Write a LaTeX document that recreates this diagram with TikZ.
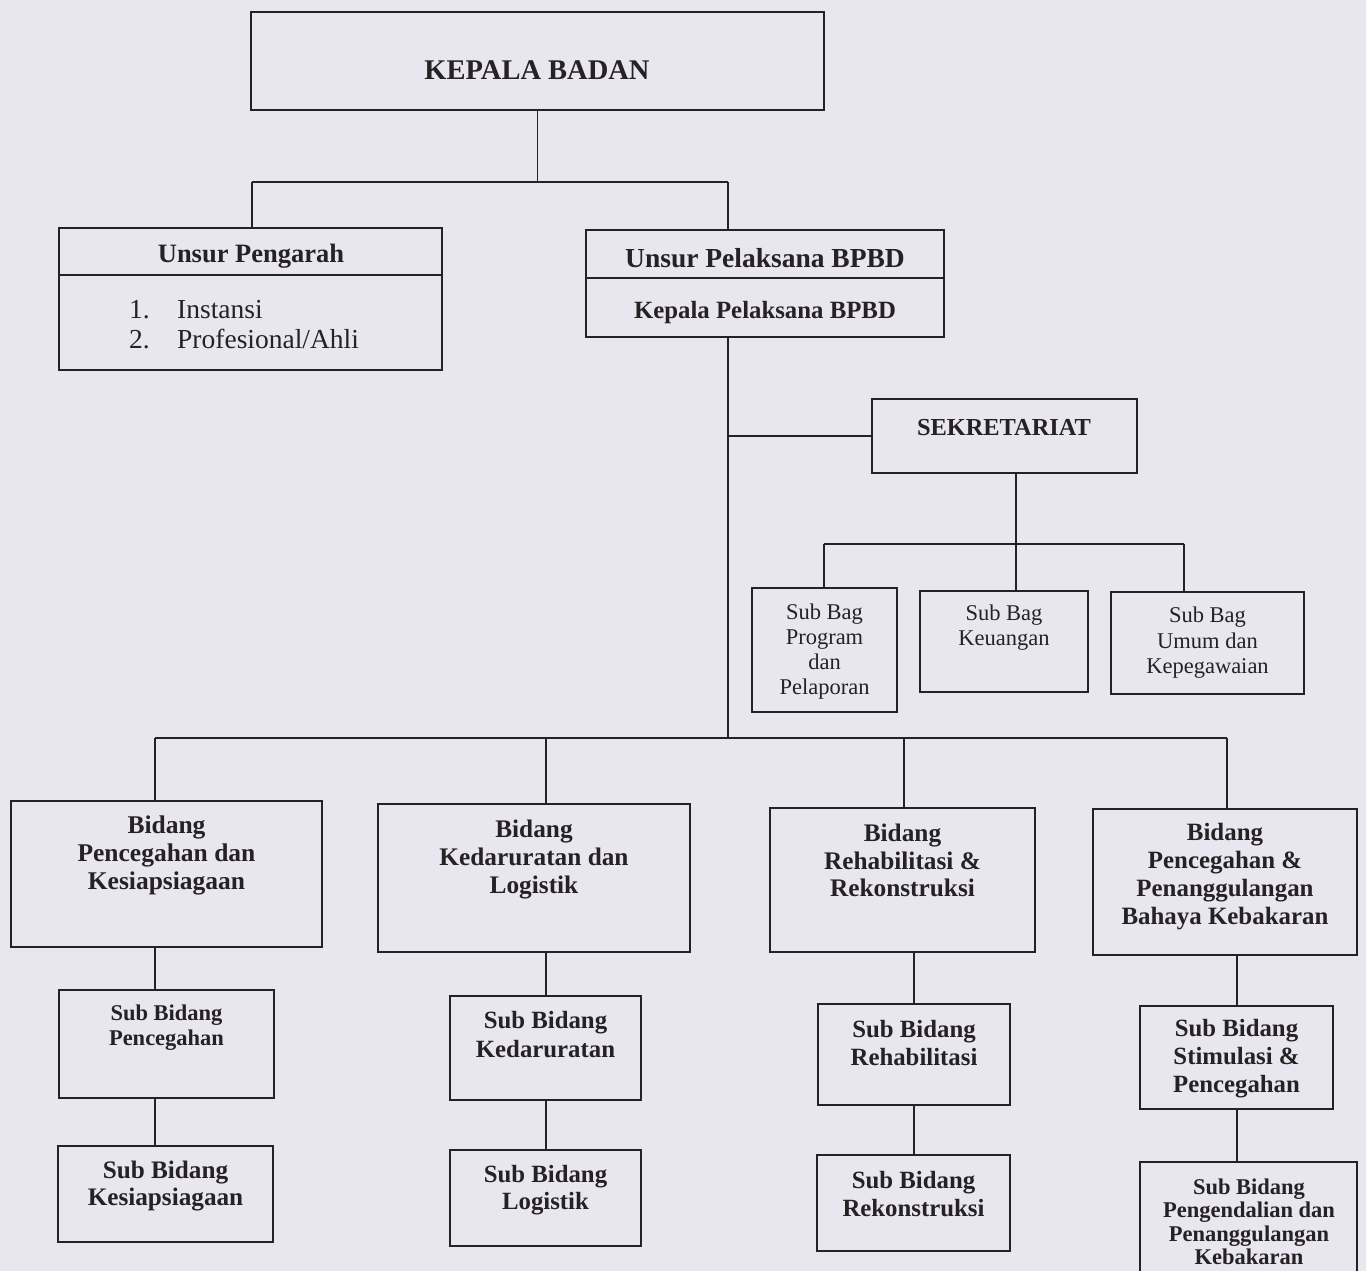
\documentclass[tikz,border=0pt]{standalone}
\usepackage{fontspec}
\setmainfont{Liberation Serif}
\usetikzlibrary{fit}
\definecolor{paper}{RGB}{232,230,239}
\definecolor{ink}{RGB}{38,33,36}
\tikzset{
  bx/.style={draw=ink, line width=2.4pt, inner sep=0pt, outer sep=0pt},
  conn/.style={draw=ink, line width=1.8pt},
  tx/.style={text=ink, align=center, inner sep=0pt},
}
\newcommand{\fs}[2]{\fontsize{#1}{#2}\selectfont}
\begin{document}
\begin{tikzpicture}[x=1pt,y=-1pt]
\clip (0,0) rectangle (1366,1271);
\fill[paper] (0,0) rectangle (1366,1271);

% boxes
\node[bx, fit={(251,12) (824,110)}] (kb) {};
\node[bx, fit={(59,228) (442,370)}] (up) {};
\node[bx, fit={(586,230) (944,337)}] (upl) {};
\node[bx, fit={(872,399) (1137,473)}] (sek) {};
\node[bx, fit={(752,588) (897,712)}] (sbp) {};
\node[bx, fit={(920,591) (1088,692)}] (sbk) {};
\node[bx, fit={(1111,592) (1304,694)}] (sbu) {};
\node[bx, fit={(11,801) (322,947)}] (bd1) {};
\node[bx, fit={(59,990) (274,1098)}] (s11) {};
\node[bx, fit={(58,1146) (273,1242)}] (s12) {};
\node[bx, fit={(378,804) (690,952)}] (bd2) {};
\node[bx, fit={(450,996) (641,1100)}] (s21) {};
\node[bx, fit={(450,1150) (641,1246)}] (s22) {};
\node[bx, fit={(770,808) (1035,952)}] (bd3) {};
\node[bx, fit={(818,1004) (1010,1105)}] (s31) {};
\node[bx, fit={(817,1155) (1010,1251)}] (s32) {};
\node[bx, fit={(1093,809) (1357,955)}] (bd4) {};
\node[bx, fit={(1140,1006) (1333,1109)}] (s41) {};
\node[bx, fit={(1140,1162) (1357,1300)}] (s42) {};

% dividers
\coordinate (upd) at (0,275);
\coordinate (upld) at (0,278);
\draw[bx] (up.west |- upd) -- (up.east |- upd);
\draw[bx] (upl.west |- upld) -- (upl.east |- upld);

% texts
\node[tx, font=\bfseries\fs{28.5}{32}] (t-kb) at (537,70) {KEPALA BADAN};
\node[tx, font=\bfseries\fs{26.5}{30}] (t-up) at (251,256) {Unsur Pengarah};
\node[tx, anchor=north west, align=left, font=\fs{27.5}{30}] (t-list) at (129,297)
  {\begin{tabular}{@{}p{48pt}@{}l@{}}1. & Instansi\\ 2. & Profesional/Ahli\end{tabular}};
\node[tx, font=\bfseries\fs{27.5}{30}] (t-upl) at (765,258) {Unsur Pelaksana BPBD};
\node[tx, font=\bfseries\fs{24.8}{28}] (t-kpl) at (765,313) {Kepala Pelaksana BPBD};
\node[tx, font=\bfseries\fs{24.4}{28}] (t-sek) at (1004,428) {SEKRETARIAT};
\node[tx, font=\fs{22.5}{25}] (t-sbp) at (824.5,652) {Sub Bag\\Program\\dan\\Pelaporan};
\node[tx, font=\fs{22.5}{25}] (t-sbk) at (1004,628) {Sub Bag\\Keuangan};
\node[tx, font=\fs{22.5}{25.5}] (t-sbu) at (1207.5,643) {Sub Bag\\Umum dan\\Kepegawaian};
\node[tx, font=\bfseries\fs{25.5}{28}] (t-bd1) at (166.5,855) {Bidang\\Pencegahan dan\\Kesiapsiagaan};
\node[tx, font=\bfseries\fs{22.5}{25}] (t-s11) at (166.5,1027.5) {Sub Bidang\\Pencegahan};
\node[tx, font=\bfseries\fs{25.2}{27}] (t-s12) at (165.5,1186.5) {Sub Bidang\\Kesiapsiagaan};
\node[tx, font=\bfseries\fs{25.3}{28}] (t-bd2) at (534,860) {Bidang\\Kedaruratan dan\\Logistik};
\node[tx, font=\bfseries\fs{24.8}{29}] (t-s21) at (545.5,1034.5) {Sub Bidang\\Kedaruratan};
\node[tx, font=\bfseries\fs{24.8}{27}] (t-s22) at (545.5,1190.5) {Sub Bidang\\Logistik};
\node[tx, font=\bfseries\fs{25.3}{27.5}] (t-bd3) at (902.5,860.5) {Bidang\\Rehabilitasi \&\\Rekonstruksi};
\node[tx, font=\bfseries\fs{24.8}{28}] (t-s31) at (914,1043) {Sub Bidang\\Rehabilitasi};
\node[tx, font=\bfseries\fs{24.8}{28}] (t-s32) at (913.5,1194) {Sub Bidang\\Rekonstruksi};
\node[tx, font=\bfseries\fs{24.9}{28.3}] (t-bd4) at (1225,876.5) {Bidang\\Pencegahan \&\\Penanggulangan\\Bahaya Kebakaran};
\node[tx, font=\bfseries\fs{24.8}{28}] (t-s41) at (1236.5,1059) {Sub Bidang\\Stimulasi \&\\Pencegahan};
\node[tx, font=\bfseries\fs{22.5}{23.5}] (t-s42) at (1249,1222) {Sub Bidang\\Pengendalian dan\\Penanggulangan\\Kebakaran};

% connectors: top
\coordinate (b1L) at (252,182);
\coordinate (b1R) at (728,182);
\draw[conn] (kb.south) -- (kb.south |- b1L);
\draw[conn] (b1L) -- (b1R);
\draw[conn] (b1L) -- (b1L |- up.north);
\draw[conn] (b1R) -- (b1R |- upl.north);

% spine
\coordinate (spine) at (728,738);
\draw[conn] (spine |- upl.south) -- (spine);
\draw[conn] (spine |- sek.west) -- (sek.west);

% sekretariat bus
\coordinate (sb) at (1016,544);
\coordinate (sbL) at (824,544);
\coordinate (sbR) at (1184,544);
\draw[conn] (sb |- sek.south) -- (sb);
\draw[conn] (sbL) -- (sbR);
\draw[conn] (sbL) -- (sbL |- sbp.north);
\draw[conn] (sb) -- (sb |- sbk.north);
\draw[conn] (sbR) -- (sbR |- sbu.north);

% bottom bus
\coordinate (bbL) at (155,738);
\coordinate (bbR) at (1227,738);
\coordinate (d2) at (546,738);
\coordinate (d3) at (904,738);
\draw[conn] (bbL) -- (bbR);
\draw[conn] (bbL) -- (bbL |- bd1.north);
\draw[conn] (d2) -- (d2 |- bd2.north);
\draw[conn] (d3) -- (d3 |- bd3.north);
\draw[conn] (bbR) -- (bbR |- bd4.north);

% columns
\coordinate (c1) at (155,0);
\coordinate (c2) at (546,0);
\coordinate (c3) at (914,0);
\coordinate (c4) at (1237,0);
\draw[conn] (c1 |- bd1.south) -- (c1 |- s11.north);
\draw[conn] (c1 |- s11.south) -- (c1 |- s12.north);
\draw[conn] (c2 |- bd2.south) -- (c2 |- s21.north);
\draw[conn] (c2 |- s21.south) -- (c2 |- s22.north);
\draw[conn] (c3 |- bd3.south) -- (c3 |- s31.north);
\draw[conn] (c3 |- s31.south) -- (c3 |- s32.north);
\draw[conn] (c4 |- bd4.south) -- (c4 |- s41.north);
\draw[conn] (c4 |- s41.south) -- (c4 |- s42.north);
\end{tikzpicture}
\end{document}
